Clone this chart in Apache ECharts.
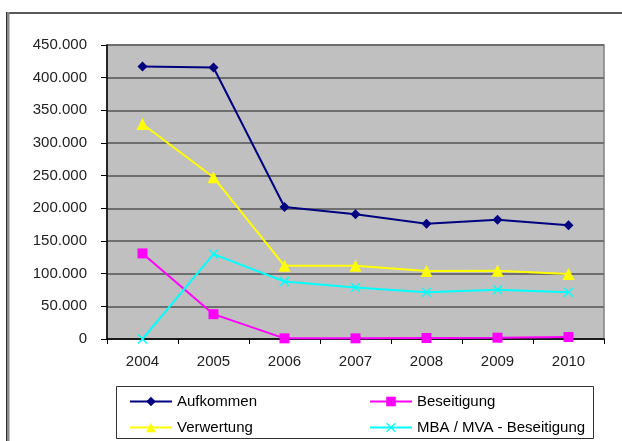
<!DOCTYPE html>
<html>
<head>
<meta charset="utf-8">
<script src="https://cdn.jsdelivr.net/npm/echarts@6/dist/echarts.min.js"></script>
<style>html,body{margin:0;padding:0;background:#fff}#c{width:622px;height:441px}</style>
</head>
<body>
<div id="c"></div>
<script>
const years = ['2004','2005','2006','2007','2008','2009','2010'];
const aufkommen = [417000, 415500, 202000, 191000, 176500, 182500, 174000];
const verwertung = [329000, 247500, 112000, 112000, 104000, 104500, 99500];
const beseitigung = [131000, 38000, 1000, 1000, 1500, 2000, 3000];
const mbaMva = [0, 130000, 88000, 79000, 71500, 75500, 71500];
const seriesNames = ['Aufkommen', 'Beseitigung', 'Verwertung', 'MBA / MVA - Beseitigung'];

const FONT = '"Liberation Sans", Arial, sans-serif';
const xPath = 'path://M0,1L1,0L5,4L9,0L10,1L6,5L10,9L9,10L5,6L1,10L0,9L4,5Z';

function fmt(v){ return String(v).replace(/\B(?=(\d{3})+(?!\d))/g, '.'); }

function mk(name, data, color, symbol, size){
  return {
    name, type:'line', data, symbol, symbolSize:size,
    showSymbol:true,
    lineStyle:{color, width:2},
    itemStyle:{color, borderWidth:0},
    emphasis:{disabled:true},
    z: 3
  };
}

function lg(name, left, top){
  return {
    data:[name], left, top, orient:'horizontal', padding:0,
    itemWidth:42, itemHeight:12, itemGap:5,
    textStyle:{fontFamily:FONT, fontSize:15, color:'#000'},
    selectedMode:false
  };
}

const chart = echarts.init(document.getElementById('c'));
chart.setOption({
  animation:false,
  backgroundColor:'#fff',
  grid:{left:107, right:18, top:45, bottom:102, show:true, backgroundColor:'#c0c0c0', borderColor:'#808080', borderWidth:1.5},
  xAxis:{
    type:'category', data:years, boundaryGap:true,
    axisLine:{lineStyle:{color:'#000', width:1.5}},
    axisTick:{show:true, length:5, alignWithLabel:false, lineStyle:{color:'#000'}},
    axisLabel:{fontFamily:FONT, fontSize:15, color:'#222', margin:15}
  },
  yAxis:{
    type:'value', min:0, max:450000, interval:50000,
    axisLine:{show:true, lineStyle:{color:'#000', width:1.5}},
    axisTick:{show:true, length:6, lineStyle:{color:'#000'}},
    axisLabel:{fontFamily:FONT, fontSize:15, color:'#222', margin:20, formatter:fmt},
    splitLine:{show:true, lineStyle:{color:'#6e6e6e', width:2}}
  },
  legend:[
    lg(seriesNames[0], 129, 394),
    lg(seriesNames[1], 369, 394),
    lg(seriesNames[2], 129, 420),
    lg(seriesNames[3], 369, 420)
  ],
  graphic:[
    {type:'rect', shape:{x:116.5, y:386.5, width:477, height:52}, style:{fill:'none', stroke:'#333', lineWidth:1}, z:-1},
    {type:'line', shape:{x1:6, y1:13, x2:622, y2:13}, style:{stroke:'#222', lineWidth:1.5}},
    {type:'line', shape:{x1:8, y1:12, x2:8, y2:441}, style:{stroke:'#888', lineWidth:3}},
    {type:'line', shape:{x1:6.5, y1:12, x2:6.5, y2:441}, style:{stroke:'#333', lineWidth:1}}
  ],
  series:[
    mk(seriesNames[0], aufkommen, '#000080', 'diamond', 10),
    mk(seriesNames[1], beseitigung, '#ff00ff', 'rect', 10),
    mk(seriesNames[2], verwertung, '#ffff00', 'triangle', 12),
    mk(seriesNames[3], mbaMva, '#00ffff', xPath, 10)
  ]
});
</script>
</body>
</html>
